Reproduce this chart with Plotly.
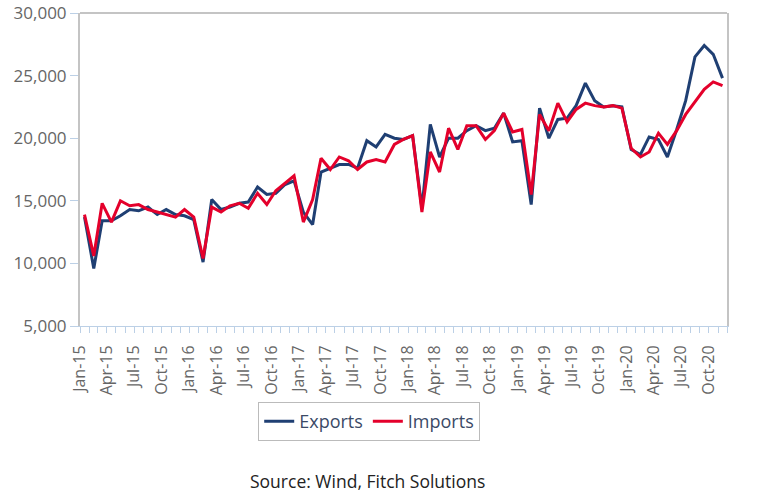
import pandas as pd
import plotly.graph_objects as go

# Monthly data Jan-15 .. Nov-20
start_month = "2015-01-01"
n_months = 71
exports = [
    13700, 9600, 13400, 13400, 13800, 14300, 14200, 14500, 13900, 14300, 13900, 13800,
    13500, 10100, 15100, 14300, 14500, 14800, 14900, 16100, 15500, 15600, 16300, 16600,
    14100, 13100, 17300, 17600, 17900, 17900, 17600, 19800, 19300, 20300, 20000, 19900,
    20200, 14400, 21100, 18500, 20000, 20000, 20600, 21000, 20600, 20800, 22000, 19700,
    19800, 14700, 22400, 20000, 21500, 21600, 22600, 24400, 23000, 22500, 22600, 22500,
    19100, 18700, 20100, 19900, 18500, 20700, 23000, 26500, 27400, 26700, 24800,
]
imports = [
    13900, 10600, 14800, 13300, 15000, 14600, 14700, 14300, 14100, 13900, 13700, 14300,
    13700, 10400, 14500, 14100, 14600, 14800, 14400, 15600, 14700, 15800, 16400, 17000,
    13300, 15100, 18400, 17500, 18500, 18200, 17500, 18100, 18300, 18100, 19500, 19900,
    20200, 14100, 18900, 17300, 20800, 19100, 21000, 21000, 19900, 20600, 22000, 20500,
    20700, 15500, 21900, 20600, 22800, 21300, 22300, 22800, 22600, 22500, 22600, 22400,
    19200, 18500, 18900, 20400, 19500, 20600, 21900, 22900, 23900, 24500, 24200,
]
y_ticks = [5000, 10000, 15000, 20000, 25000, 30000]

months = pd.date_range(start=start_month, periods=n_months, freq="MS")
# plot each month's value in the middle of its month slot
x_mid = months + pd.Timedelta(days=15)

EXP_COLOR = "#1f3f73"
IMP_COLOR = "#e4002b"
AXIS_BLUE = "#bcd0e6"
BORDER_GRAY = "#c4c4c4"
LABEL_GRAY = "#666666"

fig = go.Figure()
fig.add_trace(go.Scatter(x=x_mid, y=exports, mode="lines", name="Exports",
                         line=dict(color=EXP_COLOR, width=3)))
fig.add_trace(go.Scatter(x=x_mid, y=imports, mode="lines", name="Imports",
                         line=dict(color=IMP_COLOR, width=3)))

fig.update_layout(
    width=767, height=501,
    margin=dict(l=80, r=40, t=13, b=175, autoexpand=False),
    paper_bgcolor="white", plot_bgcolor="white",
    font=dict(family="Open Sans", color=LABEL_GRAY),
    showlegend=True,
    legend=dict(
        orientation="h", x=0.447, xanchor="center", y=-0.243, yanchor="top",
        bordercolor="#bbbbbb", borderwidth=1, bgcolor="white",
        font=dict(family="Open Sans", size=18, color="#3b4a66"),
        itemwidth=30,
    ),
    xaxis=dict(
        type="date", automargin=False,
        range=["2015-01-01", "2020-12-01"],
        tick0="2015-01-01", dtick="M3", tickformat="%b-%y",
        tickangle=-90,
        ticks="outside", ticklen=6, tickcolor=AXIS_BLUE,
        ticklabelstandoff=6,
        minor=dict(ticks="outside", ticklen=6, tickcolor=AXIS_BLUE,
                   dtick="M1", tick0="2015-01-01", showgrid=False),
        showgrid=False, zeroline=False,
        showline=True, linecolor=AXIS_BLUE, linewidth=1,
        tickfont=dict(family="Open Sans", size=16, color=LABEL_GRAY),
    ),
    yaxis=dict(
        range=[5000, 30000], automargin=False,
        tickmode="array", tickvals=y_ticks, tickformat=",",
        ticklabeloverflow="allow",
        ticks="outside", ticklen=8, tickcolor=AXIS_BLUE,
        showgrid=False, zeroline=False,
        showline=True, linecolor=BORDER_GRAY, linewidth=2, mirror=True,
        tickfont=dict(family="Open Sans", size=17, color=LABEL_GRAY),
    ),
    shapes=[
        dict(type="line", xref="x domain", yref="y domain", x0=0, x1=1, y0=1, y1=1,
             line=dict(color=BORDER_GRAY, width=2)),
    ],
    annotations=[
        dict(text="Source: Wind, Fitch Solutions", xref="paper", yref="paper",
             x=0.445, y=-0.495, xanchor="center", yanchor="middle", showarrow=False,
             font=dict(family="Open Sans", size=17.5, color="#222222")),
    ],
)

# the page's default 8px body margin would push the fixed-size figure off the window
fig.write_html("out.html", config={"displayModeBar": False},
               post_script="document.body.style.margin='0';")
